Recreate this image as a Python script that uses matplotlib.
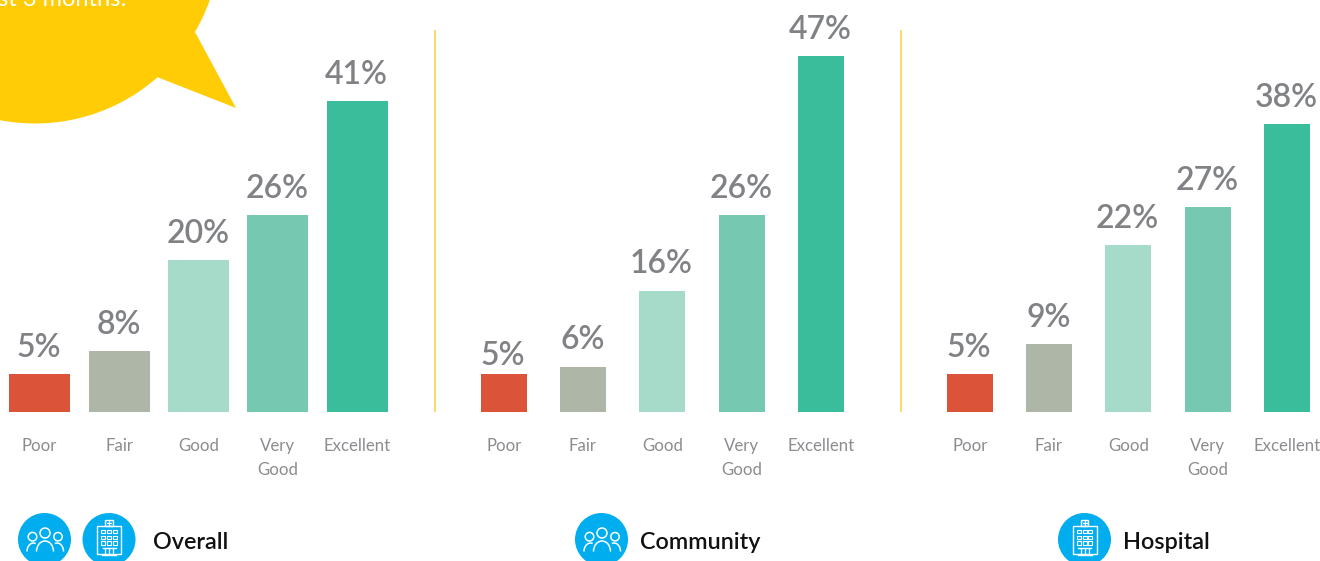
import matplotlib
matplotlib.use("Agg")
import matplotlib.pyplot as plt
from matplotlib.patches import Arc, Circle, Polygon, Rectangle

categories = ["Poor", "Fair", "Good", "Very\nGood", "Excellent"]
overall = [5, 8, 20, 26, 41]
community = [5, 6, 16, 26, 47]
hospital = [5, 9, 22, 27, 38]
bar_colors = ["#DB5339", "#ADB6A7", "#A7DBC9", "#76C9B0", "#39BD9B"]

GREY = "#808285"
YELLOW = "#FFCC05"
BLUE = "#00AEEF"

plt.rcParams["font.family"] = ["Lato", "DejaVu Sans"]

fig = plt.figure(figsize=(13.2, 5.61), dpi=100)

# page-wide layer in pixel units for everything that isn't a bar
page = fig.add_axes([0, 0, 1, 1])
page.set_xlim(0, 1320)
page.set_ylim(561, 0)
page.axis("off")


def bar_panel(values, first_center, pitch, bar_width, label_drop=None):
    label_drop = label_drop or {}
    left = (first_center - pitch / 2) / 1320
    width = 5 * pitch / 1320
    bottom = (561 - 412) / 561
    height = 50 * 7.58 / 561
    ax = fig.add_axes([left, bottom, width, height])
    ax.patch.set_alpha(0)
    ax.set_xlim(-0.5, 4.5)
    ax.set_ylim(0, 50)
    ax.bar(range(5), values, width=bar_width / pitch, color=bar_colors)
    for i, v in enumerate(values):
        ax.annotate(f"{v}%", (i, v), xytext=(-0.5, 12.4 - label_drop.get(i, 0)),
                    textcoords="offset points", ha="center", va="baseline",
                    fontsize=23, fontweight="semibold", color=GREY,
                    annotation_clip=False)
    ax.set_xticks(range(5))
    ax.set_xticklabels(categories, fontsize=12.1, color="#8A8C8F", linespacing=1.65)
    ax.tick_params(axis="x", length=0, pad=18.5)
    ax.set_yticks([])
    for s in ax.spines.values():
        s.set_visible(False)
    return ax


def people_icon(cx, cy):
    page.add_patch(Circle((cx, cy), 26.5, color=BLUE, lw=0))
    kw = dict(fill=False, ec="white", lw=1.1)
    line = dict(ec="white", lw=1.1)
    page.add_patch(Circle((cx - 12, cy - 2.8), 4.3, **kw))
    page.add_patch(Circle((cx + 0.5, cy - 6.5), 5, **kw))
    page.add_patch(Circle((cx + 13.5, cy - 2.8), 4.2, **kw))
    page.add_patch(Arc((cx + 0.5, cy + 12), 17, 21, theta1=180, theta2=360, **line))
    page.add_patch(Arc((cx - 11, cy + 12), 13, 17, theta1=180, theta2=285, **line))
    page.add_patch(Arc((cx + 12.5, cy + 12), 13, 17, theta1=255, theta2=360, **line))


def building_icon(cx, cy):
    page.add_patch(Circle((cx, cy), 26.5, color=BLUE, lw=0))
    kw = dict(fill=False, ec="white", lw=1)
    page.add_patch(Rectangle((cx - 12, cy - 13.5), 24, 28, **kw))
    page.add_patch(Rectangle((cx - 3.8, cy - 19.5), 7.6, 6, **kw))
    page.plot([cx - 2, cx + 2], [cy - 16.5, cy - 16.5], color="white", lw=0.9)
    page.plot([cx, cx], [cy - 18.5, cy - 14.5], color="white", lw=0.9)
    for row_y in (-9.5, -3.8, 1.8):
        for col_x in (-7.6, -2, 3.6):
            page.add_patch(Rectangle((cx + col_x, cy + row_y), 4, 3.4, fill=False, ec="white", lw=0.8))
    page.plot([cx - 6.5, cx + 6.5], [cy + 8, cy + 8], color="white", lw=1)
    for dx in (-4, 0, 4):
        page.plot([cx + dx, cx + dx], [cy + 8, cy + 15], color="white", lw=0.9)
    page.plot([cx - 7, cx + 7], [cy + 15, cy + 15], color="white", lw=1)


bar_panel(overall, 39.65, 79.4, 61)
bar_panel(community, 503.75, 79.25, 46, label_drop={0: 6})
bar_panel(hospital, 969.75, 79.25, 46)

# speech-burst in the top left corner
page.add_patch(Polygon([(157, 77), (236, 108), (195, 32)], color=YELLOW, lw=0))
page.add_patch(Circle((35, -62), 185.5, color=YELLOW, lw=0))
page.text(-2, 6, "st 3 months!", fontsize=17, color="white",
          ha="left", va="baseline")

for x in (435, 901):
    page.plot([x, x], [30, 412], color="#F9D03F", lw=1.1, solid_capstyle="butt")

people_icon(44.5, 539.5)
building_icon(109, 539.5)
people_icon(601.5, 539.5)
building_icon(1084.5, 539.5)

for x, name in [(153, "Overall"), (640, "Community"), (1123, "Hospital")]:
    page.text(x, 549, name, fontsize=16.8, color="#111111", fontweight="semibold",
              ha="left", va="baseline")

fig.savefig("out.png", dpi=100)
